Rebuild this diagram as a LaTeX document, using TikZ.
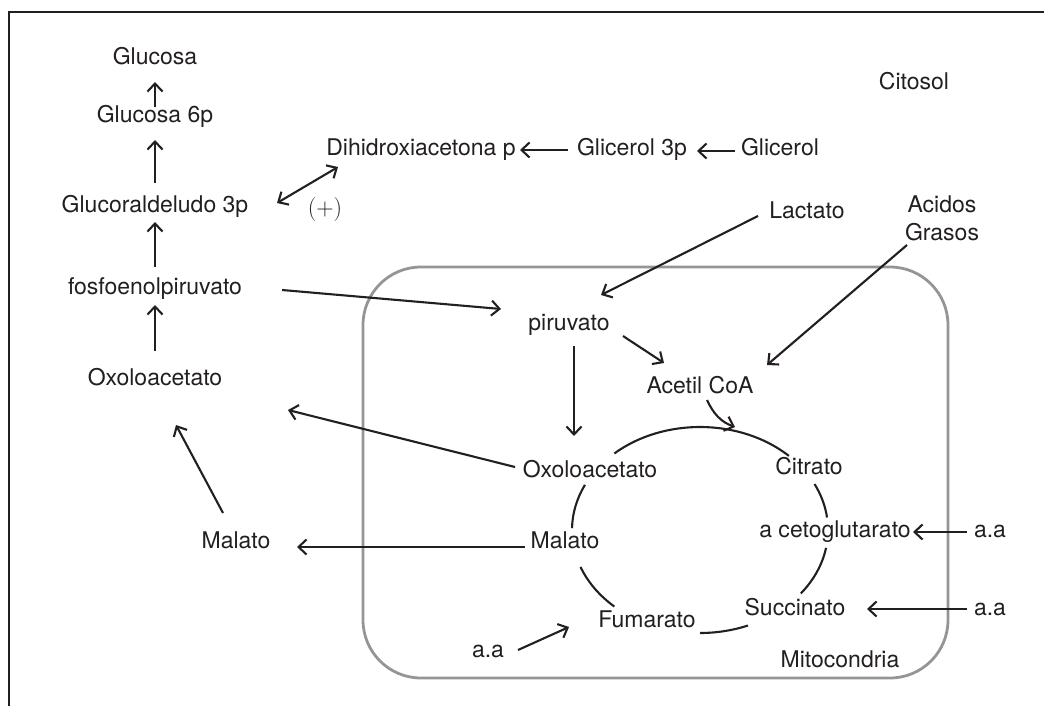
\documentclass[tikz,border=0pt]{standalone}
\usepackage{fontspec}
\setmainfont{TeX Gyre Heros}
\newfontfamily\lmfont{Latin Modern Roman}
\usetikzlibrary{arrows.meta}
\definecolor{ink}{HTML}{231F20}
\definecolor{boxgray}{HTML}{939598}
\tikzset{
  lbl/.style={anchor=base, inner sep=0pt, text=ink, font=\fontsize{23}{28}\selectfont},
  arr/.style={-{Straight Barb[length=8pt,width=15pt]}, line width=2.1pt, draw=ink},
  dblarr/.style={{Straight Barb[length=8pt,width=15pt]}-{Straight Barb[length=8pt,width=15pt]}, line width=2.1pt, draw=ink},
  cycl/.style={line width=2.1pt, draw=ink},
  framel/.style={line width=2.2pt, draw=ink},
  mitobox/.style={line width=2.8pt, draw=boxgray, rounded corners=58pt}
}
\begin{document}
\begin{tikzpicture}[x=1pt,y=1pt]
\useasboundingbox (0,0) rectangle (1044,-706);
% frame
\draw[framel] (1044,-12) -- (9,-12) -- (9,-706);
% mitochondria
\draw[mitobox] (363,-267) rectangle (948,-678);

% cytosol nodes
\node[lbl] (gluc)   at (155,-65)  {Glucosa};
\node[lbl] (gluc6)  at (155,-123) {Glucosa 6p};
\node[lbl] (gald)   at (155,-212) {Glucoraldeludo 3p};
\node[lbl] (fosfo)  at (155,-294) {fosfoenolpiruvato};
\node[lbl] (oxoL)   at (155,-385) {Oxoloacetato};
\node[lbl] (malL)   at (236,-548) {Malato};
\node[lbl] (dihid)  at (421,-155) {Dihidroxiacetona p};
\node[lbl] (gli3)   at (632,-155) {Glicerol 3p};
\node[lbl] (glic)   at (780,-155) {Glicerol};
\node[lbl] (lact)   at (807,-218) {Lactato};
\node[lbl, font=\lmfont\fontsize{24}{28}\selectfont] (plus) at (325,-215) {(+)};
\node[lbl] (citosol) at (914,-90) {Citosol};
\node[lbl, anchor=north, align=center] (acidos) at (942,-195.5) {Acidos\\Grasos};

% mitochondria nodes
\node[lbl] (piru)  at (569,-330) {piruvato};
\node[lbl] (acet)  at (700,-393) {Acetil CoA};
\node[lbl] (oxoI)  at (590,-477) {Oxoloacetato};
\node[lbl] (citr)  at (809,-474) {Citrato};
\node[lbl] (ceto)  at (835,-537) {a cetoglutarato};
\node[lbl] (succ)  at (795,-615) {Succinato};
\node[lbl] (fuma)  at (647,-627) {Fumarato};
\node[lbl] (malI)  at (565,-548) {Malato};
\node[lbl] (mito)  at (840,-667) {Mitocondria};
\node[lbl] (aa1)   at (990,-537) {a.a};
\node[lbl] (aa2)   at (990,-615) {a.a};
\node[lbl] (aa3)   at (488,-657) {a.a};

% gluconeogenesis column
\draw[arr] ([shift={(0,16)}]gluc6.base) -- ([shift={(0,-17)}]gluc.base);
\draw[arr] ([shift={(0,29)}]gald.base) -- ([shift={(0,-17)}]gluc6.base);
\draw[arr] ([shift={(0,27)}]fosfo.base) -- ([shift={(0,-10)}]gald.base);
\draw[arr] ([shift={(0,34)}]oxoL.base) -- ([shift={(0,-11)}]fosfo.base);
\draw[dblarr] ([shift={(122,9)}]gald.base) -- ([shift={(-83,-12)}]dihid.base);
\draw[arr] ([shift={(-64,5)}]gli3.base) -- ([shift={(99,5)}]dihid.base);
\draw[arr] ([shift={(-45,4)}]glic.base) -- ([shift={(65,4)}]gli3.base);

% into mitochondria
\draw[arr] ([shift={(127,4)}]fosfo.base) -- ([shift={(-68,21)}]piru.base);
\draw[arr] ([shift={(-49,2)}]lact.base) -- ([shift={(32,35)}]piru.base);
\draw[arr] ([shift={(-35,-49.5)}]acidos.north) -- ([shift={(67,28)}]acet.base);
\draw[arr] ([shift={(54,-6)}]piru.base) -- ([shift={(-36,30)}]acet.base);
\draw[arr] ([shift={(5,-16)}]piru.base) -- ([shift={(-16,41)}]oxoI.base);

% out of mitochondria
\draw[arr] ([shift={(-75,10)}]oxoI.base) -- ([shift={(133,-25)}]oxoL.base);
\draw[arr] ([shift={(-40,1)}]malI.base) -- ([shift={(61,1)}]malL.base);
\draw[arr] ([shift={(-13,35)}]malL.base) -- ([shift={(21,-40)}]oxoL.base);

% amino acids
\draw[arr] ([shift={(30,7)}]aa3.base) -- ([shift={(-78,0)}]fuma.base);
\draw[arr] ([shift={(-23,5)}]aa1.base) -- ([shift={(78,5)}]ceto.base);
\draw[arr] ([shift={(-23,6)}]aa2.base) -- ([shift={(72,6)}]succ.base);

% Krebs cycle
\coordinate (cyc) at (700,-530);
\coordinate (cyctop) at (735,-427);
\draw[cycl] (cyc) ++(132:128 and 103) arc[start angle=132, end angle=46, x radius=128, y radius=103];
\draw[cycl] (cyc) ++(26.5:128 and 103) arc[start angle=26.5, end angle=7, x radius=128, y radius=103];
\draw[cycl] (cyc) ++(-10:128 and 103) arc[start angle=-10, end angle=-38, x radius=128, y radius=103];
\draw[cycl] (cyc) ++(-68:128 and 103) arc[start angle=-68, end angle=-90, x radius=128, y radius=103];
\draw[cycl] (cyc) ++(228:128 and 103) arc[start angle=228, end angle=201, x radius=128, y radius=103];
\draw[cycl] (cyc) ++(179:128 and 103) arc[start angle=179, end angle=154, x radius=128, y radius=103];
\draw[arr] ([shift={(7,-7)}]acet.base) to[out=-65, in=160] (cyctop);
\end{tikzpicture}
\end{document}
